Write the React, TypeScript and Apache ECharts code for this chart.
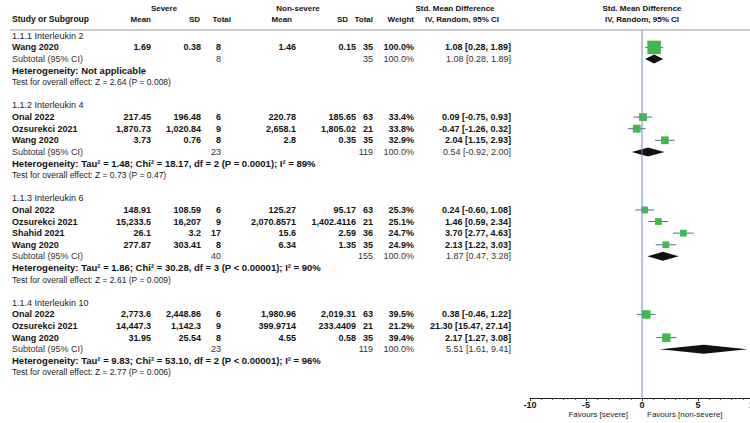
import React, { useEffect, useRef } from "react";
import * as echarts from "echarts";

const groupTitles = ["1.1.1 Interleukin 2", "1.1.2 Interleukin 4", "1.1.3 Interleukin 6", "1.1.4 Interleukin 10"];
const studyGroup = [0, 1, 1, 1, 2, 2, 2, 2, 3, 3, 3];
const studyNames = ["Wang 2020", "Onal 2022", "Ozsurekci 2021", "Wang 2020", "Onal 2022", "Ozsurekci 2021", "Shahid 2021", "Wang 2020", "Onal 2022", "Ozsurekci 2021", "Wang 2020"];
const severeMean = ["1.69", "217.45", "1,870.73", "3.73", "148.91", "15,233.5", "26.1", "277.87", "2,773.6", "14,447.3", "31.95"];
const severeSD = ["0.38", "196.48", "1,020.84", "0.76", "108.59", "16,207", "3.2", "303.41", "2,448.86", "1,142.3", "25.54"];
const severeN = [8, 6, 9, 8, 6, 9, 17, 8, 6, 9, 8];
const nonSevereMean = ["1.46", "220.78", "2,658.1", "2.8", "125.27", "2,070.8571", "15.6", "6.34", "1,980.96", "399.9714", "4.55"];
const nonSevereSD = ["0.15", "185.65", "1,805.02", "0.35", "95.17", "1,402.4116", "2.59", "1.35", "2,019.31", "233.4409", "0.58"];
const nonSevereN = [35, 63, 21, 35, 63, 21, 36, 35, 63, 21, 35];
const weights = [100.0, 33.4, 33.8, 32.9, 25.3, 25.1, 24.7, 24.9, 39.5, 21.2, 39.4];
const smd = [1.08, 0.09, -0.47, 2.04, 0.24, 1.46, 3.7, 2.13, 0.38, 21.3, 2.17];
const ciLow = [0.28, -0.75, -1.26, 1.15, -0.6, 0.59, 2.77, 1.22, -0.46, 15.47, 1.27];
const ciHigh = [1.89, 0.93, 0.32, 2.93, 1.08, 2.34, 4.63, 3.03, 1.22, 27.14, 3.08];

const subSevereN = [8, 23, 40, 23];
const subNonSevereN = [35, 119, 155, 119];
const subSmd = [1.08, 0.54, 1.87, 5.51];
const subLow = [0.28, -0.92, 0.47, 1.61];
const subHigh = [1.89, 2.0, 3.28, 9.41];
const heterogeneity = [
  "Heterogeneity: Not applicable",
  "Heterogeneity: Tau² = 1.48; Chi² = 18.17, df = 2 (P = 0.0001); I² = 89%",
  "Heterogeneity: Tau² = 1.86; Chi² = 30.28, df = 3 (P < 0.00001); I² = 90%",
  "Heterogeneity: Tau² = 9.83; Chi² = 53.10, df = 2 (P < 0.00001); I² = 96%",
];
const overallTests = [
  "Test for overall effect: Z = 2.64 (P = 0.008)",
  "Test for overall effect: Z = 0.73 (P = 0.47)",
  "Test for overall effect: Z = 2.61 (P = 0.009)",
  "Test for overall effect: Z = 2.77 (P = 0.006)",
];
const xMin = -10;
const xMax = 10;
const xStep = 5;
const xTicks = [-10, -5, 0, 5, 10];

type Row = { kind: "heading" | "study" | "subtotal" | "het" | "test"; idx: number; k: number };

function buildRows(): Row[] {
  const rows: Row[] = [];
  let k = 0;
  groupTitles.forEach((_, g) => {
    rows.push({ kind: "heading", idx: g, k: k++ });
    studyGroup.forEach((sg, i) => {
      if (sg === g) rows.push({ kind: "study", idx: i, k: k++ });
    });
    rows.push({ kind: "subtotal", idx: g, k: k++ });
    rows.push({ kind: "het", idx: g, k: k++ });
    rows.push({ kind: "test", idx: g, k: k++ });
    k++;
  });
  return rows;
}

const FONT = '"Liberation Sans", Arial, sans-serif';
const fmt2 = (v: number) => v.toFixed(2);
const ciText = (e: number, l: number, h: number) => `${fmt2(e)} [${fmt2(l)}, ${fmt2(h)}]`;

export default function App() {
  const ref = useRef<HTMLDivElement>(null);
  useEffect(() => {
    document.body.style.margin = "0";
    const chart = echarts.init(ref.current!, null, { renderer: "svg" });
    const rows = buildRows();
    const yMin = -0.5;
    const yMax = 31.2;
    const gridTop = 30;
    const gridH = 368;

    const txt = (text: string, x: number, y: number, align: string, font: string, fill = "#111") => ({
      type: "text",
      x,
      y,
      style: { text, fill, font, align, textAlign: align, verticalAlign: "middle", textVerticalAlign: "middle" },
    });

    const bold = `bold 9px ${FONT}`;
    const normal = `9px ${FONT}`;
    const head = `bold 8px ${FONT}`;

    const tableRender = (params: any, api: any) => {
      const r = rows[params.dataIndex];
      const y = api.coord([0, r.k])[1];
      const X = (px: number) => api.coord([px, r.k])[0];
      const ch: any[] = [];
      if (r.kind === "heading") {
        ch.push(txt(groupTitles[r.idx], X(12), y, "left", normal, "#222"));
      } else if (r.kind === "study") {
        const i = r.idx;
        ch.push(txt(studyNames[i], X(12), y, "left", bold));
        ch.push(txt(severeMean[i], X(151), y, "right", bold));
        ch.push(txt(severeSD[i], X(201), y, "right", bold));
        ch.push(txt(String(severeN[i]), X(221), y, "right", bold));
        ch.push(txt(nonSevereMean[i], X(296), y, "right", bold));
        ch.push(txt(nonSevereSD[i], X(356), y, "right", bold));
        ch.push(txt(String(nonSevereN[i]), X(373), y, "right", bold));
        ch.push(txt(`${weights[i].toFixed(1)}%`, X(414), y, "right", bold));
        ch.push(txt(ciText(smd[i], ciLow[i], ciHigh[i]), X(511), y, "right", bold));
      } else if (r.kind === "subtotal") {
        const g = r.idx;
        ch.push(txt("Subtotal (95% CI)", X(12), y, "left", normal, "#333"));
        ch.push(txt(String(subSevereN[g]), X(221), y, "right", normal, "#333"));
        ch.push(txt(String(subNonSevereN[g]), X(373), y, "right", normal, "#333"));
        ch.push(txt("100.0%", X(414), y, "right", normal, "#333"));
        ch.push(txt(ciText(subSmd[g], subLow[g], subHigh[g]), X(511), y, "right", normal, "#333"));
      } else if (r.kind === "het") {
        ch.push(txt(heterogeneity[r.idx], X(12), y, "left", `bold 9.5px ${FONT}`));
      } else {
        ch.push(txt(overallTests[r.idx], X(12), y, "left", `8.5px ${FONT}`, "#222"));
      }
      return { type: "group", children: ch };
    };

    const studyRows = rows.filter((r) => r.kind === "study");
    const subRows = rows.filter((r) => r.kind === "subtotal");

    const studyRender = (params: any, api: any) => {
      const est = api.value(0);
      const k = api.value(1);
      const lo = api.value(2);
      const hi = api.value(3);
      const w = api.value(4);
      if (est > xMax || est < xMin) return null;
      const c = api.coord([est, k]);
      const l = api.coord([Math.max(lo, xMin), k]);
      const h = api.coord([Math.min(hi, xMax), k]);
      const s = Math.sqrt(w) * 1.35;
      return {
        type: "group",
        children: [
          { type: "line", shape: { x1: l[0], y1: c[1], x2: h[0], y2: c[1] }, style: { stroke: "#5866a8", lineWidth: 1 } },
          { type: "rect", shape: { x: c[0] - s / 2, y: c[1] - s / 2, width: s, height: s }, style: { fill: "#3dba4e" } },
        ],
      };
    };

    const diamondRender = (params: any, api: any) => {
      const est = api.value(0);
      const k = api.value(1);
      const lo = api.value(2);
      const hi = api.value(3);
      const c = api.coord([est, k]);
      const l = api.coord([lo, k]);
      const h = api.coord([hi, k]);
      const hh = 4.5;
      return {
        type: "polygon",
        shape: { points: [[l[0], c[1]], [c[0], c[1] - hh], [h[0], c[1]], [c[0], c[1] + hh]] },
        style: { fill: "#111" },
      };
    };

    chart.setOption({
      animation: false,
      grid: [
        { left: 0, top: gridTop, width: 750, height: gridH, outerBoundsMode: "none", containLabel: false },
        { left: 530, top: gridTop, width: 224, height: gridH, outerBoundsMode: "none", containLabel: false },
      ],
      xAxis: [
        { type: "value", gridIndex: 0, min: 0, max: 750, show: false },
        {
          type: "value",
          gridIndex: 1,
          position: "bottom",
          min: xMin,
          max: xMax,
          interval: xStep,
          axisLine: { show: true, onZero: false, lineStyle: { color: "#222", width: 1 } },
          axisTick: { show: true, length: 3, customValues: xTicks, lineStyle: { color: "#222" } },
          minorTick: { show: true, splitNumber: 5, length: 2, lineStyle: { color: "#555" } },
          splitLine: { show: false },
          axisLabel: {
            customValues: xTicks,
            showMinLabel: true,
            showMaxLabel: true,
            hideOverlap: false,
            fontSize: 9,
            fontWeight: "bold",
            color: "#111",
            margin: 2,
            fontFamily: FONT,
          },
        },
      ],
      yAxis: [
        { type: "value", gridIndex: 0, min: yMin, max: yMax, inverse: true, show: false },
        { type: "value", gridIndex: 1, min: yMin, max: yMax, inverse: true, show: false },
      ],
      graphic: [
        { type: "line", shape: { x1: 10, y1: gridTop, x2: 750, y2: gridTop }, style: { stroke: "#999", lineWidth: 1 } },
        txt("Severe", 164, 8, "center", head),
        txt("Non-severe", 298, 8, "center", head),
        txt("Std. Mean Difference", 455, 8, "center", head),
        txt("Std. Mean Difference", 642, 8, "center", head),
        txt("Study or Subgroup", 12, 19, "left", `bold 8.5px ${FONT}`),
        txt("Mean", 151, 19, "right", head),
        txt("SD", 200, 19, "right", head),
        txt("Total", 231, 19, "right", head),
        txt("Mean", 292, 19, "right", head),
        txt("SD", 348, 19, "right", head),
        txt("Total", 373, 19, "right", head),
        txt("Weight", 414, 19, "right", head),
        txt("IV, Random, 95% CI", 462, 19, "center", head),
        txt("IV, Random, 95% CI", 642, 19, "center", head),
        txt("Favours [severe]", 628, 414, "right", `8px ${FONT}`, "#222"),
        txt("Favours [non-severe]", 647, 414, "left", `8px ${FONT}`, "#222"),
      ],
      series: [
        {
          type: "custom",
          xAxisIndex: 0,
          yAxisIndex: 0,
          clip: false,
          renderItem: tableRender,
          data: rows.map((r) => [0, r.k]),
          silent: true,
        },
        {
          type: "line",
          xAxisIndex: 1,
          yAxisIndex: 1,
          data: [[0, yMin], [0, yMax]],
          symbol: "none",
          lineStyle: { color: "#7b83c9", width: 1 },
          silent: true,
        },
        {
          type: "custom",
          xAxisIndex: 1,
          yAxisIndex: 1,
          clip: true,
          renderItem: studyRender,
          data: studyRows.map((r) => [smd[r.idx], r.k, ciLow[r.idx], ciHigh[r.idx], weights[r.idx]]),
          silent: true,
        },
        {
          type: "custom",
          xAxisIndex: 1,
          yAxisIndex: 1,
          clip: true,
          renderItem: diamondRender,
          data: subRows.map((r) => [subSmd[r.idx], r.k, subLow[r.idx], subHigh[r.idx]]),
          silent: true,
        },
      ],
    });
    return () => chart.dispose();
  }, []);
  return <div ref={ref} style={{ width: 750, height: 423, background: "#fff" }} />;
}
